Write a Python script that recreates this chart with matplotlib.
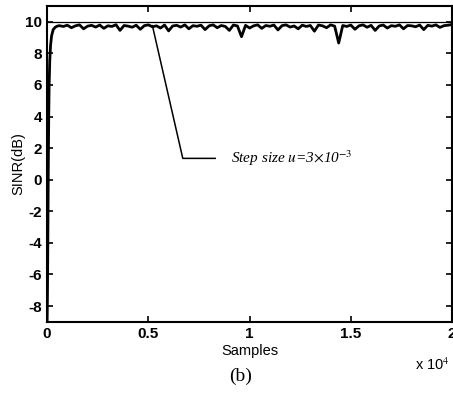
import matplotlib.pyplot as plt
import numpy as np

# convergence part of the curve (samples, SINR dB)
rise_x = [0, 15, 30, 45, 60, 80, 100, 130, 170, 220, 300, 400, 500]
rise_y = [-9.0, -7.5, -5.0, -2.0, 1.0, 4.0, 6.0, 7.5, 8.5, 9.1, 9.5, 9.65, 9.72]

# steady state, one value every 200 samples from 600 to 20000
steady_y = [
    9.75, 9.70, 9.78, 9.62, 9.74, 9.80, 9.55, 9.72, 9.77, 9.66,
    9.79, 9.58, 9.74, 9.70, 9.81, 9.45, 9.76, 9.72, 9.65, 9.78,
    9.52, 9.75, 9.80, 9.68, 9.74, 9.60, 9.79, 9.42, 9.73, 9.77,
    9.66, 9.80, 9.55, 9.75, 9.71, 9.78, 9.50, 9.74, 9.80, 9.62,
    9.76, 9.70, 9.45, 9.79, 9.73, 9.05, 9.77, 9.60, 9.74, 9.80,
    9.58, 9.76, 9.71, 9.79, 9.48, 9.75, 9.80, 9.66, 9.73, 9.55,
    9.78, 9.70, 9.76, 9.40, 9.79, 9.74, 9.62, 9.80, 9.72, 8.65,
    9.76, 9.70, 9.79, 9.52, 9.74, 9.80, 9.65, 9.77, 9.45, 9.73,
    9.79, 9.60, 9.75, 9.71, 9.80, 9.55, 9.76, 9.74, 9.68, 9.79,
    9.50, 9.77, 9.72, 9.80, 9.64, 9.75, 9.78, 9.82,
]
steady_x = [600 + 200 * i for i in range(len(steady_y))]

opt_sinr = 10.0

x = rise_x + steady_x
y = rise_y + steady_y

plt.rcParams['font.family'] = ['Liberation Sans', 'DejaVu Sans']
plt.rcParams['axes.unicode_minus'] = False
plt.rcParams['mathtext.fontset'] = 'stix'

fig = plt.figure(figsize=(4.53, 3.94), dpi=100)
ax = fig.add_axes([0.104, 0.183, 0.894, 0.802])

ax.plot(x, y, color='black', lw=2.0)
ax.axhline(opt_sinr, color='black', lw=0.9)

ax.set_xlim(0, 20000)
ax.set_ylim(-9, 11)
ax.set_xticks([0, 5000, 10000, 15000, 20000])
ax.set_xticklabels(['0', '0.5', '1', '1.5', '2'])
ax.set_yticks([-8, -6, -4, -2, 0, 2, 4, 6, 8, 10])
ax.tick_params(direction='in', top=True, right=True, labelsize=11, width=1.2, length=4)
for lab in ax.get_xticklabels() + ax.get_yticklabels():
    lab.set_fontweight('bold')
for s in ax.spines.values():
    s.set_linewidth(1.5)

ax.set_xlabel('Samples', fontsize=10.5, labelpad=2)
ax.set_ylabel('SINR(dB)', fontsize=10.5, labelpad=0)

# annotation leader line
ax.plot([5200, 6700, 8300], [9.75, 1.35, 1.35], color='black', lw=1.1)
ax.text(9100, 1.35, r'Step size $u$=3$\times$10$^{-3}$', fontsize=11, style='italic',
        family='Liberation Serif', va='center', ha='left')

fig.text(0.955, 0.074, r'x 10$^4$', fontsize=10.5, ha='center', va='center')
fig.text(0.53, 0.045, '(b)', fontsize=14, family='Liberation Serif', ha='center', va='center')

fig.savefig('out.png', dpi=100)
